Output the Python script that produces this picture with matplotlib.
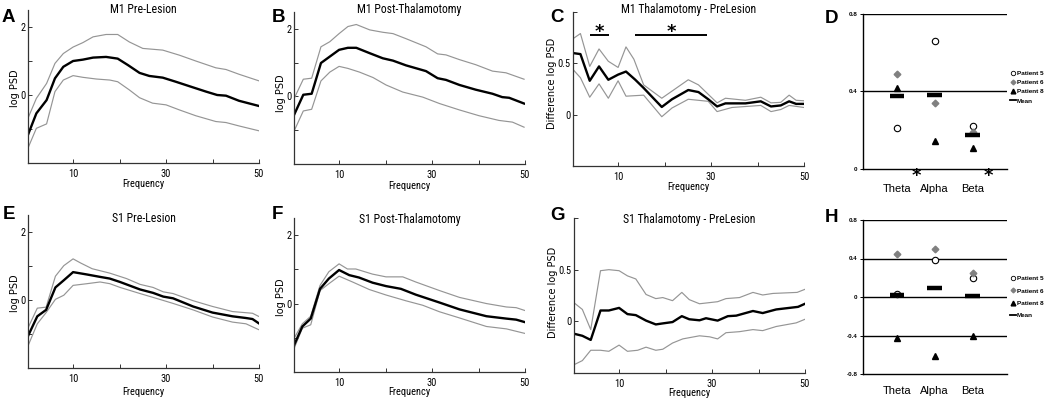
import matplotlib
matplotlib.use("Agg")
import matplotlib.pyplot as plt
from matplotlib.lines import Line2D

# ---------------- data ----------------
# Panel A: M1 Pre-Lesion
a_mean_f = [0.3, 2.1, 4.3, 6.1, 7.9, 10, 12.1, 14.3, 17.1, 19.6, 21.8, 24.3, 26.4, 29.3, 32.1, 35, 38.6, 41, 42.9, 45.7, 49.9]
a_mean = [-1.17, -0.54, -0.15, 0.49, 0.83, 1.0, 1.04, 1.10, 1.12, 1.07, 0.88, 0.65, 0.56, 0.51, 0.39, 0.26, 0.10, 0.0, -0.02, -0.17, -0.32]
a_up_f = [0.3, 2.1, 4.3, 6.1, 7.9, 10, 12.1, 14.3, 17.1, 19.6, 22.1, 25, 29.3, 32.9, 36.4, 40.7, 42.9, 45.7, 49.9]
a_up = [-0.68, -0.1, 0.34, 0.93, 1.22, 1.41, 1.54, 1.71, 1.78, 1.78, 1.56, 1.37, 1.32, 1.17, 1.0, 0.80, 0.75, 0.61, 0.42]
a_lo_f = [0.3, 2.1, 4.3, 6.1, 7.9, 10, 12.1, 15, 17.9, 19.6, 22.1, 24.3, 27.1, 30, 32.9, 36.4, 40.7, 42.9, 45.7, 49.9]
a_lo = [-1.56, -0.98, -0.85, 0.10, 0.44, 0.57, 0.52, 0.47, 0.44, 0.39, 0.15, -0.08, -0.24, -0.29, -0.44, -0.61, -0.78, -0.81, -0.91, -1.05]

# Panel B: M1 Post-Thalamotomy
b_mean_f = [0.3, 2.3, 4.1, 6.1, 8, 10, 11.9, 13.7, 16.6, 19.4, 21.6, 24.4, 28.7, 31.2, 33, 35.9, 39.4, 43, 45.1, 46.6, 49.8]
b_mean = [-0.55, 0.05, 0.08, 0.99, 1.18, 1.38, 1.44, 1.44, 1.28, 1.13, 1.06, 0.92, 0.75, 0.54, 0.49, 0.34, 0.20, 0.08, -0.02, -0.04, -0.21]
b_up_f = [0.3, 2.3, 4.1, 6.1, 8, 10, 11.9, 13.7, 16.6, 19.4, 21.6, 24.4, 28.7, 31.2, 33, 35.9, 39.4, 43, 45.9, 49.8]
b_up = [-0.07, 0.51, 0.54, 1.47, 1.62, 1.86, 2.07, 2.13, 1.97, 1.90, 1.86, 1.71, 1.47, 1.26, 1.23, 1.09, 0.94, 0.75, 0.70, 0.51]
b_lo_f = [0.3, 2.3, 4.1, 6.1, 8, 10, 11.9, 14.4, 17.3, 20.1, 23.7, 28, 31.6, 35.9, 40.1, 44.4, 47.3, 49.8]
b_lo = [-1.03, -0.43, -0.38, 0.46, 0.72, 0.89, 0.83, 0.72, 0.56, 0.34, 0.13, -0.02, -0.21, -0.40, -0.57, -0.71, -0.76, -0.91]

# Panel C: M1 Thalamotomy - PreLesion
c_mean_f = [0.3, 1.9, 3.9, 5.9, 7.9, 10, 11.7, 13.7, 15.5, 17.6, 19.4, 21.6, 25.1, 27.3, 29.4, 31.3, 33.1, 37.4, 40.7, 42.9, 45, 46.8, 48.3, 50]
c_mean = [0.60, 0.59, 0.33, 0.47, 0.34, 0.39, 0.42, 0.34, 0.26, 0.16, 0.075, 0.15, 0.24, 0.22, 0.15, 0.08, 0.11, 0.11, 0.13, 0.08, 0.09, 0.13, 0.105, 0.105]
c_up_f = [0.3, 1.9, 3.9, 5.9, 7.9, 10, 11.7, 13.4, 15.5, 19.4, 25.1, 27.3, 31.3, 33.1, 37.4, 40.7, 42.9, 45, 46.8, 48.3, 50]
c_up = [0.74, 0.79, 0.47, 0.64, 0.52, 0.46, 0.66, 0.54, 0.29, 0.16, 0.34, 0.29, 0.115, 0.16, 0.14, 0.17, 0.115, 0.12, 0.19, 0.14, 0.135]
c_lo_f = [0.3, 1.9, 3.9, 5.9, 7.9, 10, 11.7, 15.5, 19.4, 21.6, 25.1, 29.4, 31.3, 34.5, 40.7, 42.9, 45, 46.8, 50]
c_lo = [0.44, 0.36, 0.17, 0.30, 0.16, 0.33, 0.18, 0.19, -0.02, 0.065, 0.15, 0.13, 0.03, 0.07, 0.09, 0.03, 0.05, 0.09, 0.07]
c_sig_start = [4.0, 13.7]
c_sig_end = [8.0, 29.1]
c_sig_level = 0.775

# Panel E: S1 Pre-Lesion
e_mean_f = [0.3, 2.3, 4.2, 6.2, 8, 10, 13, 15.8, 17.9, 20.1, 24.4, 27.2, 29.4, 31.5, 35.8, 40, 44.3, 47.2, 48.6, 49.9]
e_mean = [-1.06, -0.48, -0.29, 0.37, 0.58, 0.82, 0.75, 0.68, 0.63, 0.53, 0.31, 0.21, 0.10, 0.05, -0.19, -0.37, -0.48, -0.53, -0.56, -0.68]
e_up_f = [0.3, 2.3, 4.2, 6.2, 8, 10, 11.6, 14.1, 17.9, 21.5, 24.4, 27.2, 29.4, 31.5, 35.8, 40, 44.3, 48.6, 49.9]
e_up = [-0.82, -0.24, -0.21, 0.70, 1.01, 1.21, 1.09, 0.92, 0.79, 0.63, 0.46, 0.37, 0.24, 0.19, -0.02, -0.19, -0.34, -0.39, -0.48]
e_lo_f = [0.3, 2.3, 4.2, 6.2, 8, 10, 13, 15.8, 17.9, 20.1, 24.4, 28.6, 31.5, 35.8, 40, 44.3, 47.2, 49.9]
e_lo = [-1.35, -0.70, -0.37, 0.02, 0.14, 0.43, 0.48, 0.53, 0.48, 0.37, 0.19, 0.02, -0.10, -0.29, -0.50, -0.65, -0.70, -0.87]

# Panel F: S1 Post-Thalamotomy
f_mean_f = [0.3, 2.1, 3.9, 5.9, 7.8, 10, 12.2, 14.3, 17.2, 20.1, 23.3, 26.5, 31.6, 35.9, 41.7, 46, 48.1, 49.9]
f_mean = [-1.22, -0.67, -0.44, 0.43, 0.73, 0.98, 0.83, 0.76, 0.61, 0.51, 0.43, 0.26, 0.03, -0.17, -0.37, -0.44, -0.47, -0.54]
f_up_f = [0.3, 2.1, 3.9, 5.9, 7.8, 10, 11.8, 13.6, 17.2, 20.1, 23.7, 26.5, 31.6, 35.9, 41.7, 46, 48.1, 49.9]
f_up = [-1.02, -0.59, -0.37, 0.53, 0.93, 1.16, 1.01, 1.01, 0.86, 0.78, 0.78, 0.63, 0.38, 0.18, 0.0, -0.10, -0.12, -0.20]
f_lo_f = [0.3, 2.1, 3.9, 5.9, 7.8, 10, 12.9, 16.5, 20.1, 24.4, 28, 31.6, 35.9, 41.7, 46, 49.9]
f_lo = [-1.32, -0.72, -0.62, 0.38, 0.58, 0.80, 0.63, 0.41, 0.25, 0.08, -0.05, -0.24, -0.42, -0.67, -0.74, -0.87]

# Panel G: S1 Thalamotomy - PreLesion
g_mean_f = [0.3, 2.1, 3.9, 6, 7.8, 10, 11.8, 13.6, 15.8, 17.9, 19.4, 21.5, 23.5, 25.1, 27.3, 28.7, 31.2, 33.4, 35.2, 38.8, 40.9, 43.8, 48.5, 50]
g_mean = [-0.12, -0.14, -0.18, 0.105, 0.105, 0.13, 0.07, 0.06, 0.007, -0.03, -0.02, -0.007, 0.05, 0.02, 0.01, 0.03, 0.007, 0.05, 0.055, 0.10, 0.08, 0.115, 0.14, 0.17]
g_up_f = [0.3, 2.1, 3.9, 6, 7.8, 10, 11.8, 13.6, 15.8, 17.9, 19.4, 21.5, 23.5, 25.1, 27.3, 31.2, 33, 35.9, 38.8, 40.9, 43.1, 48.3, 50]
g_up = [0.18, 0.115, -0.08, 0.49, 0.50, 0.49, 0.44, 0.41, 0.26, 0.22, 0.23, 0.20, 0.28, 0.21, 0.17, 0.19, 0.22, 0.23, 0.28, 0.255, 0.27, 0.28, 0.31]
g_lo_f = [0.3, 2.1, 3.9, 6, 7.8, 10, 11.8, 14, 15.8, 17.9, 19.4, 21.5, 23.7, 27.3, 29.5, 31.2, 33, 35.9, 38.8, 40.9, 43.8, 48.1, 50]
g_lo = [-0.42, -0.38, -0.28, -0.28, -0.29, -0.23, -0.29, -0.28, -0.25, -0.28, -0.27, -0.21, -0.17, -0.14, -0.15, -0.17, -0.11, -0.10, -0.08, -0.09, -0.05, -0.015, 0.02]

# Panels D and H: band scatter
bands = ["Theta", "Alpha", "Beta"]
patients = ["Patient 5", "Patient 6", "Patient 8"]
d_p5 = [0.213, 0.66, 0.222]
d_p6 = [0.49, 0.342, 0.193]
d_p8 = [0.42, 0.146, 0.11]
d_mean = [0.377, 0.382, 0.175]
h_p5 = [0.028, 0.38, 0.20]
h_p6 = [0.45, 0.50, 0.245]
h_p8 = [-0.43, -0.61, -0.40]
h_mean = [0.017, 0.097, 0.012]

# ---------------- layout ----------------
W, H = 1050, 404
fig = plt.figure(figsize=(W / 100, H / 100), dpi=100)
fig.patch.set_facecolor("white")

NARROW = ["Liberation Sans Narrow", "Arial Narrow", "Roboto Condensed", "Open Sans Condensed", "Roboto", "DejaVu Sans"]
SANS = ["Liberation Sans", "DejaVu Sans"]
GRAY = "#959595"
AXC = "#333333"


def box(l, t, r, b):
    return [l / W, 1 - b / H, (r - l) / W, (b - t) / H]


def ftext(x, y, s, **kw):
    return fig.text(x / W, 1 - y / H, s, **kw)


def psd_panel(pos, mf, m, uf, u, lf, lo, ylim, yticks, ylabels):
    ax = fig.add_axes(box(*pos))
    ax.plot(uf, u, color=GRAY, lw=0.85)
    ax.plot(lf, lo, color=GRAY, lw=0.85)
    ax.plot(mf, m, color="black", lw=1.7)
    ax.set_xlim(0.3, 50)
    ax.set_ylim(*ylim)
    for s in ("top", "right"):
        ax.spines[s].set_visible(False)
    for s in ("left", "bottom"):
        ax.spines[s].set_color(AXC)
        ax.spines[s].set_linewidth(0.9)
    ax.set_xticks([10, 20, 30, 40, 50])
    ax.set_xticklabels(["10", "", "30", "", "50"], family=NARROW, fontsize=7.5)
    ax.set_yticks(yticks)
    ax.set_yticklabels(ylabels, family=NARROW, fontsize=7.5)
    ax.tick_params(axis="both", direction="in", length=3, width=0.7, color=AXC)
    ax.tick_params(axis="x", pad=4)
    ax.tick_params(axis="y", pad=1.5)
    ax.patch.set_alpha(0)
    return ax


psd_ticks = [-1, 0, 1, 2]
psd_labels = ["", "0", "", "2"]
diff_ticks = [-0.5, 0, 0.5, 1.0]
diff_labels = ["", "0", "0.5", ""]

axA = psd_panel((28, 10, 259, 163), a_mean_f, a_mean, a_up_f, a_up, a_lo_f, a_lo, (-2, 2.5), psd_ticks, psd_labels)
axB = psd_panel((294, 12, 525, 164), b_mean_f, b_mean, b_up_f, b_up, b_lo_f, b_lo, (-2, 2.5), psd_ticks, psd_labels)
axC = psd_panel((573, 12, 804, 166), c_mean_f, c_mean, c_up_f, c_up, c_lo_f, c_lo, (-0.5, 1.0), diff_ticks, diff_labels)
axE = psd_panel((28, 215, 259, 368), e_mean_f, e_mean, e_up_f, e_up, e_lo_f, e_lo, (-2, 2.5), psd_ticks, psd_labels)
axF = psd_panel((294, 218, 525, 372), f_mean_f, f_mean, f_up_f, f_up, f_lo_f, f_lo, (-2, 2.5), psd_ticks, psd_labels)
axG = psd_panel((574, 218, 805, 373), g_mean_f, g_mean, g_up_f, g_up, g_lo_f, g_lo, (-0.5, 1.0), diff_ticks, diff_labels)

# significance bars in C
for s0, s1 in zip(c_sig_start, c_sig_end):
    axC.hlines(c_sig_level, s0, s1, color="black", lw=1.4)
    axC.text((s0 + s1) / 2, c_sig_level - 0.016, "*", ha="center", va="baseline",
             fontsize=13, fontweight="bold", family=["DejaVu Sans"])

# titles / labels for PSD panels
titles = [
    (143.5, 13, "M1 Pre-Lesion"), (409.5, 13, "M1 Post-Thalamotomy"), (688.5, 12.5, "M1 Thalamotomy - PreLesion"),
    (143.5, 221.5, "S1 Pre-Lesion"), (409.5, 223, "S1 Post-Thalamotomy"), (689.5, 223, "S1 Thalamotomy - PreLesion"),
]
for x, y, s in titles:
    ftext(x, y, s, ha="center", va="baseline", family=NARROW, fontsize=8.5)

for x, y in [(143.5, 187), (409.5, 189), (688.5, 190), (143.5, 395), (409.5, 395), (689.5, 396)]:
    ftext(x, y, "Frequency", ha="center", va="baseline", family=NARROW, fontsize=7.5)

for x, y, s in [(15, 88, "log PSD"), (281, 93, "log PSD"), (552, 83, "Difference log PSD"),
                (15, 293, "log PSD"), (281, 297, "log PSD"), (553, 292, "Difference log PSD")]:
    ftext(x, y, s, ha="center", va="center", rotation=90, family=["DejaVu Sans"], fontsize=7)

# panel letters
for x, y, s in [(2, 22, "A"), (272, 22, "B"), (550, 22, "C"), (825, 23, "D"),
                (3, 219, "E"), (272, 219, "F"), (550, 220, "G"), (825, 222, "H")]:
    ftext(x, y, s, ha="left", va="baseline", family=SANS, fontsize=13.5, fontweight="bold")


# ---------------- scatter panels ----------------
def band_panel(pos, p5, p6, p8, mean, ylim, yticks, ytl, hlines, tick_pad):
    ax = fig.add_axes(box(*pos))
    xs = list(range(len(bands)))
    ax.set_xlim(-0.89, 2.91)
    ax.set_ylim(*ylim)
    for yv in hlines:
        ax.axhline(yv, color="black", lw=1.0, zorder=1)
    for s in ("top", "right"):
        ax.spines[s].set_visible(False)
    ax.spines["left"].set_linewidth(1.0)
    ax.spines["bottom"].set_linewidth(1.0)
    ax.plot(xs, p5, "o", mfc="white", mec="black", mew=0.8, ms=4.6, zorder=3)
    ax.plot(xs, p6, "D", mfc="#808080", mec="#808080", ms=3.4, zorder=3)
    ax.plot(xs, p8, "^", mfc="black", mec="black", ms=4.8, zorder=3)
    ax.hlines(mean, [x - 0.19 for x in xs], [x + 0.19 for x in xs], color="black", lw=3.2, zorder=4)
    ax.set_xticks(xs)
    ax.set_xticklabels(bands, family=SANS, fontsize=8)
    ax.tick_params(axis="x", length=0, pad=tick_pad)
    ax.set_yticks(yticks)
    ax.set_yticklabels(ytl, family=SANS, fontsize=4.5, fontweight="bold")
    ax.tick_params(axis="y", length=2, width=0.7, pad=2)
    ax.patch.set_alpha(0)
    handles = [
        Line2D([], [], ls="none", marker="o", mfc="white", mec="black", mew=0.6, ms=3.2, label=patients[0]),
        Line2D([], [], ls="none", marker="D", mfc="#808080", mec="#808080", ms=2.4, label=patients[1]),
        Line2D([], [], ls="none", marker="^", mfc="black", mec="black", ms=3.4, label=patients[2]),
        Line2D([], [], ls="-", color="black", lw=1.3, label="Mean"),
    ]
    return ax, handles


axD, hd = band_panel((863, 14, 1007, 169), d_p5, d_p6, d_p8, d_mean, (0, 0.8),
                     [0, 0.4, 0.8], ["0", "0.4", "0.8"], [0.4, 0.8], 11)
axH, hh = band_panel((863, 220, 1007, 374), h_p5, h_p6, h_p8, h_mean, (-0.8, 0.8),
                     [-0.8, -0.4, 0, 0.4, 0.8], ["-0.8", "-0.4", "0", "0.4", "0.8"], [-0.4, 0, 0.4, 0.8], 9)

leg_kw = dict(loc="center left", bbox_transform=fig.transFigure, frameon=False,
              prop={"family": SANS, "size": 4.6, "weight": "bold"},
              handlelength=0.9, handletextpad=0.2, borderpad=0, borderaxespad=0)
axD.legend(handles=hd, bbox_to_anchor=(1010 / W, 1 - 87 / H), labelspacing=0.6, **leg_kw)
axH.legend(handles=hh, bbox_to_anchor=(1010 / W, 1 - 297 / H), labelspacing=1.05, **leg_kw)

# significance stars under D
for x in (916, 988):
    ftext(x, 180.5, "*", ha="center", va="baseline", family=["DejaVu Sans"], fontsize=13, fontweight="bold")

fig.savefig("out.png", dpi=100, facecolor="white")
